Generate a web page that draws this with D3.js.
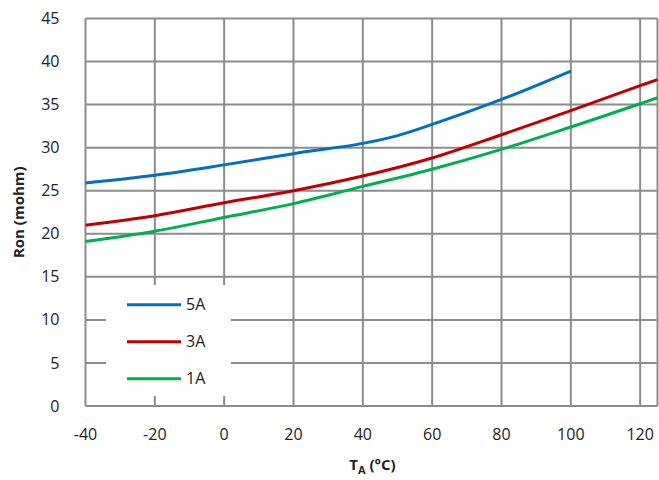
<!DOCTYPE html>
<html>
<head>
<meta charset="utf-8">
<script src="https://cdn.jsdelivr.net/npm/d3@7"></script>
<style>
  body { margin: 0; background: #fff; }
  text { font-family: "Open Sans", "Noto Sans", sans-serif; }
</style>
</head>
<body>
<div id="chart"></div>
<script>
// temperatures (°C) and Ron (mohm)
const temps5A = [-40, -20, 0, 20, 40, 50, 60, 80, 100];
const ron5A = [25.9, 26.8, 28.0, 29.3, 30.5, 31.4, 32.7, 35.6, 38.9];

const temps3A = [-40, -20, 0, 20, 40, 60, 80, 100, 120, 125];
const ron3A = [21.0, 22.1, 23.6, 25.0, 26.7, 28.8, 31.5, 34.3, 37.2, 37.9];

const temps1A = [-40, -20, 0, 20, 40, 60, 80, 100, 120, 125];
const ron1A = [19.1, 20.3, 21.9, 23.5, 25.5, 27.5, 29.8, 32.4, 35.1, 35.8];

const seriesNames = ["5A", "3A", "1A"];
const seriesColors = ["#0070C0", "#C00000", "#00B050"];

const xTicks = [-40, -20, 0, 20, 40, 60, 80, 100, 120];
const yTicks = [0, 5, 10, 15, 20, 25, 30, 35, 40, 45];

const width = 659, height = 480;
const margin = { top: 18.5, right: 1.5, bottom: 74, left: 85.5 };

const svg = d3.select("#chart").append("svg")
  .attr("width", width)
  .attr("height", height);

const x = d3.scaleLinear()
  .domain([-40, 125])
  .range([margin.left, width - margin.right]);

const y = d3.scaleLinear()
  .domain([0, 45])
  .range([height - margin.bottom, margin.top]);

const gridColor = "#8c8c8c";

// horizontal grid
svg.append("g")
  .selectAll("line")
  .data(yTicks)
  .join("line")
  .attr("x1", x(-40))
  .attr("x2", x(125))
  .attr("y1", d => y(d))
  .attr("y2", d => y(d))
  .attr("stroke", gridColor)
  .attr("stroke-width", 2);

// vertical grid (plus right edge)
svg.append("g")
  .selectAll("line")
  .data(xTicks.concat([125]))
  .join("line")
  .attr("x1", d => x(d))
  .attr("x2", d => x(d))
  .attr("y1", y(0))
  .attr("y2", y(45))
  .attr("stroke", gridColor)
  .attr("stroke-width", 2);

// tick labels
svg.append("g")
  .selectAll("text")
  .data(yTicks)
  .join("text")
  .attr("x", margin.left - 26)
  .attr("y", d => y(d))
  .attr("dy", "0.35em")
  .attr("text-anchor", "end")
  .style("font-size", "16px")
  .attr("fill", "#222")
  .text(d => d);

svg.append("g")
  .selectAll("text")
  .data(xTicks)
  .join("text")
  .attr("x", d => x(d))
  .attr("y", y(0) + 34)
  .attr("text-anchor", "middle")
  .style("font-size", "16px")
  .attr("fill", "#222")
  .text(d => d);

// curves
const line = d3.line()
  .curve(d3.curveCatmullRom.alpha(0.5))
  .x(d => x(d[0]))
  .y(d => y(d[1]));

const series = [
  d3.zip(temps5A, ron5A),
  d3.zip(temps3A, ron3A),
  d3.zip(temps1A, ron1A)
];

// legend box (drawn before curves, hides the grid behind it)
const legend = svg.append("g");
legend.append("rect")
  .attr("x", 106)
  .attr("y", 285)
  .attr("width", 125)
  .attr("height", 111)
  .attr("fill", "#fff");

series.forEach((s, i) => {
  svg.append("path")
    .datum(s)
    .attr("fill", "none")
    .attr("stroke", seriesColors[i])
    .attr("stroke-width", 3)
    .attr("stroke-linejoin", "round")
    .attr("d", line);
});

seriesNames.forEach((name, i) => {
  const ly = 304.7 + i * 37;
  legend.append("line")
    .attr("x1", 127)
    .attr("x2", 181)
    .attr("y1", ly)
    .attr("y2", ly)
    .attr("stroke", seriesColors[i])
    .attr("stroke-width", 3);
  legend.append("text")
    .attr("x", 186)
    .attr("y", ly)
    .attr("dy", "0.35em")
    .style("font-size", "16px")
    .attr("fill", "#222")
    .text(name);
});

// axis titles
svg.append("text")
  .attr("transform", `translate(24, ${(y(0) + y(45)) / 2}) rotate(-90)`)
  .attr("text-anchor", "middle")
  .style("font-size", "15px")
  .style("font-weight", "bold")
  .attr("fill", "#222")
  .text("Ron (mohm)");

const xTitle = svg.append("text")
  .attr("x", (x(-40) + x(125)) / 2 + 1)
  .attr("y", 470)
  .attr("text-anchor", "middle")
  .style("font-size", "15px")
  .style("font-weight", "bold")
  .attr("fill", "#222");
xTitle.append("tspan").text("T");
xTitle.append("tspan").attr("dy", 4).style("font-size", "11px").text("A");
xTitle.append("tspan").attr("dy", -4).text(" (°C)");
</script>
</body>
</html>
